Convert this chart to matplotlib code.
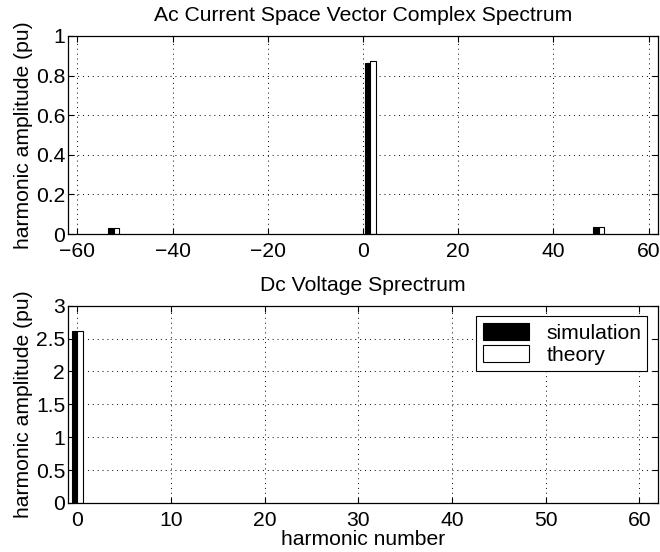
import matplotlib
matplotlib.use("Agg")
import matplotlib.pyplot as plt
import numpy as np

plt.rcParams['font.family'] = ['Liberation Sans', 'DejaVu Sans']
FS = 15.2
plt.rcParams['font.size'] = FS

# ---- data ----
ac_harmonics = [-53, 1, 49]
ac_simulation = [0.028, 0.865, 0.035]
ac_theory = [0.030, 0.875, 0.038]

dc_harmonics = [0]
dc_simulation = [2.61]
dc_theory = [2.62]

ac_xticks = [-60, -40, -20, 0, 20, 40, 60]
ac_yticks = [0, 0.2, 0.4, 0.6, 0.8, 1]
ac_yticklabels = ["0", "0.2", "0.4", "0.6", "0.8", "1"]
dc_xticks = [0, 10, 20, 30, 40, 50, 60]
dc_yticks = [0, 0.5, 1, 1.5, 2, 2.5, 3]
dc_yticklabels = ["0", "0.5", "1", "1.5", "2", "2.5", "3"]

fig = plt.figure(figsize=(6.6, 5.52), dpi=100)
ax1 = fig.add_axes([0.103, 0.576, 0.894, 0.359])
ax2 = fig.add_axes([0.103, 0.089, 0.894, 0.357])

grid_kw = dict(color='black', linestyle=(0, (1, 4)), linewidth=0.7)


def style(ax):
    ax.tick_params(direction='in', top=True, right=True, length=4, width=0.8,
                   labelsize=FS)
    ax.tick_params(axis='x', pad=6)
    ax.tick_params(axis='y', pad=2)
    for s in ax.spines.values():
        s.set_linewidth(0.9)
        s.set_color('black')
    ax.grid(True, **grid_kw)
    ax.set_axisbelow(True)


# top
h = np.array(ac_harmonics, dtype=float)
w1 = 1.15
ax1.bar(h, ac_simulation, width=w1, color='black', edgecolor='black',
        linewidth=0.8, align='center')
ax1.bar(h + w1, ac_theory, width=w1, color='white', edgecolor='black',
        linewidth=0.8, align='center')
ax1.set_xlim(-62, 62)
ax1.set_ylim(0, 1)
ax1.set_xticks(ac_xticks)
ax1.set_yticks(ac_yticks)
ax1.set_yticklabels(ac_yticklabels)
ax1.set_title("Ac Current Space Vector Complex Spectrum", fontsize=FS, pad=11)
ax1.set_ylabel("harmonic amplitude (pu)", fontsize=FS, labelpad=2)
style(ax1)

# bottom
hd = np.array(dc_harmonics, dtype=float)
w2 = 0.62
ax2.bar(hd - w2 / 2, dc_simulation, width=w2, color='black', edgecolor='black',
        linewidth=0.8, label='simulation')
ax2.bar(hd + w2 / 2, dc_theory, width=w2, color='white', edgecolor='black',
        linewidth=0.8, label='theory')
ax2.set_xlim(-1, 62)
ax2.set_ylim(0, 3)
ax2.set_xticks(dc_xticks)
ax2.set_yticks(dc_yticks)
ax2.set_yticklabels(dc_yticklabels)
ax2.set_title("Dc Voltage Sprectrum", fontsize=FS, pad=11)
ax2.set_ylabel("harmonic amplitude (pu)", fontsize=FS, labelpad=2)
ax2.set_xlabel("harmonic number", fontsize=FS, labelpad=0)
style(ax2)
leg = ax2.legend(loc='upper right', fontsize=FS, fancybox=False,
                 framealpha=1, edgecolor='black', borderaxespad=0.5,
                 handlelength=2.2, handleheight=0.9, handletextpad=0.8,
                 labelspacing=0.1, borderpad=0.3)
leg.get_frame().set_linewidth(0.8)

fig.savefig("out.png", dpi=100)
